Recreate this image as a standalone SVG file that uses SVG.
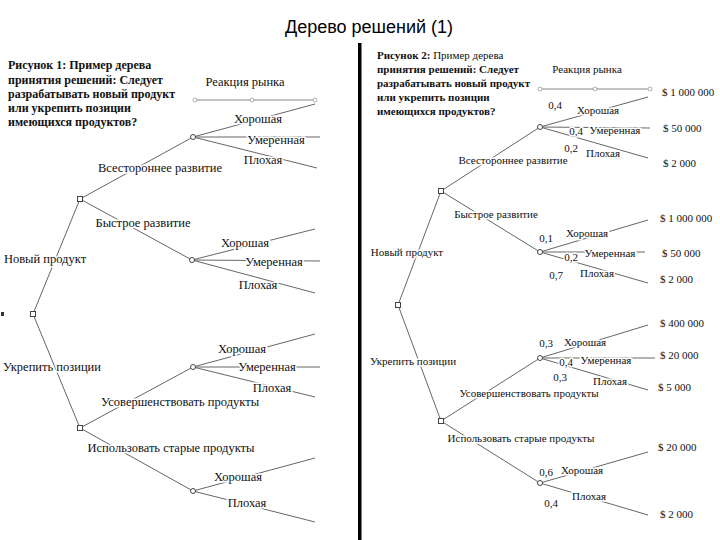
<svg xmlns="http://www.w3.org/2000/svg" width="720" height="540" viewBox="0 0 720 540">
<style>
.bg{fill:#fff}
.title{font-family:"Liberation Sans",Arial,sans-serif;font-size:18px;fill:#000;text-anchor:middle}
.cap{font-family:"Liberation Serif","Times New Roman",serif;font-weight:bold;fill:#111}
.capL{font-size:12px}
.capR{font-size:11px}
.reg{font-weight:normal}
.lbl{font-family:"Liberation Serif","Times New Roman",serif;font-size:12.5px;fill:#111;text-anchor:middle;stroke:#fff;stroke-width:3px;paint-order:stroke;stroke-linejoin:round}
.lblR{font-family:"Liberation Serif","Times New Roman",serif;font-size:11px;fill:#111;text-anchor:middle;stroke:#fff;stroke-width:3px;paint-order:stroke;stroke-linejoin:round}
.val{font-family:"Liberation Serif","Times New Roman",serif;font-size:11px;fill:#111}
.ln{stroke:#666;stroke-width:1;fill:none}
.axis{stroke:#888;stroke-width:1.2;fill:none}
.dot{fill:#fff;stroke:#999;stroke-width:0.8}
.dec{fill:#fff;stroke:#444;stroke-width:1}
.chn{fill:#fff;stroke:#444;stroke-width:1}
</style>
<rect class="bg" x="0" y="0" width="720" height="540"/>
<text class="title" x="369" y="33">Дерево решений (1)</text>
<rect x="358" y="43" width="3.5" height="497" fill="#000"/>
<rect x="1" y="312" width="3" height="4" fill="#333"/>

<g id="connectors">
  <!-- left tree -->
  <line class="ln" x1="33" y1="314" x2="80" y2="199"/>
  <line class="ln" x1="33" y1="314" x2="80" y2="428"/>
  <line class="ln" x1="80" y1="199" x2="193" y2="137"/>
  <line class="ln" x1="80" y1="199" x2="192" y2="260"/>
  <line class="ln" x1="80" y1="428" x2="193" y2="367"/>
  <line class="ln" x1="80" y1="428" x2="193" y2="491"/>
  <line class="ln" x1="193" y1="137" x2="315" y2="104"/>
  <line class="ln" x1="193" y1="137" x2="320" y2="137"/>
  <line class="ln" x1="193" y1="137" x2="317" y2="168"/>
  <line class="ln" x1="192" y1="260" x2="315" y2="229"/>
  <line class="ln" x1="192" y1="260" x2="320" y2="261"/>
  <line class="ln" x1="192" y1="260" x2="315" y2="293"/>
  <line class="ln" x1="193" y1="367" x2="315" y2="334"/>
  <line class="ln" x1="193" y1="367" x2="320" y2="367"/>
  <line class="ln" x1="193" y1="367" x2="315" y2="397"/>
  <line class="ln" x1="193" y1="491" x2="315" y2="458"/>
  <line class="ln" x1="193" y1="491" x2="315" y2="522"/>
  <!-- right tree -->
  <line class="ln" x1="398" y1="305" x2="441" y2="191"/>
  <line class="ln" x1="398" y1="305" x2="441" y2="421"/>
  <line class="ln" x1="441" y1="191" x2="540" y2="127"/>
  <line class="ln" x1="441" y1="191" x2="540" y2="252"/>
  <line class="ln" x1="441" y1="421" x2="540" y2="358"/>
  <line class="ln" x1="441" y1="421" x2="540" y2="483"/>
  <line class="ln" x1="540" y1="127" x2="648" y2="97"/>
  <line class="ln" x1="540" y1="127" x2="650" y2="128"/>
  <line class="ln" x1="540" y1="127" x2="648" y2="158"/>
  <line class="ln" x1="540" y1="252" x2="648" y2="220"/>
  <line class="ln" x1="540" y1="252" x2="645" y2="252"/>
  <line class="ln" x1="540" y1="252" x2="648" y2="283"/>
  <line class="ln" x1="540" y1="358" x2="648" y2="325"/>
  <line class="ln" x1="540" y1="358" x2="655" y2="358"/>
  <line class="ln" x1="540" y1="358" x2="648" y2="390"/>
  <line class="ln" x1="540" y1="483" x2="648" y2="452"/>
  <line class="ln" x1="540" y1="483" x2="648" y2="515"/>
</g>

<g id="axisL">
  <line class="axis" x1="195" y1="100" x2="315" y2="100"/>
  <circle class="dot" cx="195" cy="100" r="2"/>
  <circle class="dot" cx="252" cy="100" r="2"/>
  <circle class="dot" cx="315" cy="100" r="2"/>
  <text class="lbl" x="245" y="86">Реакция рынка</text>
</g>
<g id="axisR">
  <line class="axis" x1="540" y1="89" x2="650" y2="89"/>
  <circle class="dot" cx="540" cy="89" r="2"/>
  <circle class="dot" cx="595" cy="89" r="2"/>
  <circle class="dot" cx="650" cy="89" r="2"/>
  <text class="lblR" x="587" y="73">Реакция рынка</text>
</g>

<g id="captionL" class="cap capL">
  <text x="8" y="69">Рисунок 1: Пример дерева</text>
  <text x="8" y="84">принятия решений: Следует</text>
  <text x="8" y="98">разрабатывать новый продукт</text>
  <text x="8" y="112">или укрепить позиции</text>
  <text x="8" y="126">имеющихся продуктов?</text>
</g>
<g id="captionR" class="cap capR">
  <text x="377" y="59">Рисунок 2: <tspan class="reg">Пример дерева</tspan></text>
  <text x="377" y="73">принятия решений: Следует</text>
  <text x="377" y="87">разрабатывать новый продукт</text>
  <text x="377" y="101">или укрепить позиции</text>
  <text x="377" y="115">имеющихся продуктов?</text>
</g>

<!-- left tree nodes -->
<g id="L-D0"><rect class="dec" x="30.5" y="311.5" width="5" height="5"/></g>
<g id="L-D1"><rect class="dec" x="77.5" y="196.5" width="5" height="5"/></g>
<g id="L-D2"><rect class="dec" x="77.5" y="425.5" width="5" height="5"/></g>
<g id="L-C1"><circle class="chn" cx="193" cy="137" r="2.5"/></g>
<g id="L-C2"><circle class="chn" cx="192" cy="260" r="2.5"/></g>
<g id="L-C3"><circle class="chn" cx="193" cy="367" r="2.5"/></g>
<g id="L-C4"><circle class="chn" cx="193" cy="491" r="2.5"/></g>

<g id="L-labels">
  <text class="lbl" x="45" y="263">Новый продукт</text>
  <text class="lbl" x="52" y="371">Укрепить позиции</text>
  <text class="lbl" x="160" y="172">Всестороннее развитие</text>
  <text class="lbl" x="143" y="227">Быстрое развитие</text>
  <text class="lbl" x="180" y="406">Усовершенствовать продукты</text>
  <text class="lbl" x="171" y="452">Использовать старые продукты</text>
  <text class="lbl" x="258" y="123">Хорошая</text>
  <text class="lbl" x="276" y="144">Умеренная</text>
  <text class="lbl" x="263" y="164">Плохая</text>
  <text class="lbl" x="245" y="247">Хорошая</text>
  <text class="lbl" x="274" y="266">Умеренная</text>
  <text class="lbl" x="258" y="289">Плохая</text>
  <text class="lbl" x="242" y="353">Хорошая</text>
  <text class="lbl" x="267" y="371">Умеренная</text>
  <text class="lbl" x="272" y="392">Плохая</text>
  <text class="lbl" x="238" y="481">Хорошая</text>
  <text class="lbl" x="247" y="507">Плохая</text>
</g>

<!-- right tree nodes -->
<g id="R-D0"><rect class="dec" x="395.5" y="302.5" width="5" height="5"/></g>
<g id="R-D1"><rect class="dec" x="438.5" y="188.5" width="5" height="5"/></g>
<g id="R-D2"><rect class="dec" x="438.5" y="418.5" width="5" height="5"/></g>
<g id="R-C1"><circle class="chn" cx="540" cy="127" r="2.5"/></g>
<g id="R-C2"><circle class="chn" cx="540" cy="252" r="2.5"/></g>
<g id="R-C3"><circle class="chn" cx="540" cy="358" r="2.5"/></g>
<g id="R-C4"><circle class="chn" cx="540" cy="483" r="2.5"/></g>

<g id="R-labels">
  <text class="lblR" x="407" y="256">Новый продукт</text>
  <text class="lblR" x="413" y="365">Укрепить позиции</text>
  <text class="lblR" x="513" y="164">Всестороннее развитие</text>
  <text class="lblR" x="496" y="218">Быстрое развитие</text>
  <text class="lblR" x="529" y="397">Усовершенствовать продукты</text>
  <text class="lblR" x="521" y="442">Использовать старые продукты</text>

  <text class="lblR" x="555" y="109">0,4</text>
  <text class="lblR" x="598" y="114">Хорошая</text>
  <text class="lblR" x="576" y="135">0,4</text>
  <text class="lblR" x="615" y="134">Умеренная</text>
  <text class="lblR" x="571" y="152">0,2</text>
  <text class="lblR" x="603" y="157">Плохая</text>

  <text class="lblR" x="546" y="242">0,1</text>
  <text class="lblR" x="587" y="237">Хорошая</text>
  <text class="lblR" x="571" y="261">0,2</text>
  <text class="lblR" x="610" y="257">Умеренная</text>
  <text class="lblR" x="556" y="279">0,7</text>
  <text class="lblR" x="597" y="277">Плохая</text>

  <text class="lblR" x="546" y="347">0,3</text>
  <text class="lblR" x="585" y="346">Хорошая</text>
  <text class="lblR" x="566" y="366">0,4</text>
  <text class="lblR" x="606" y="364">Умеренная</text>
  <text class="lblR" x="560" y="381">0,3</text>
  <text class="lblR" x="610" y="385">Плохая</text>

  <text class="lblR" x="546" y="476">0,6</text>
  <text class="lblR" x="582" y="474">Хорошая</text>
  <text class="lblR" x="551" y="507">0,4</text>
  <text class="lblR" x="589" y="500">Плохая</text>
</g>

<g id="R-values" class="val">
  <text x="662" y="96">$ 1 000 000</text>
  <text x="663" y="132">$ 50 000</text>
  <text x="663" y="167">$ 2 000</text>
  <text x="660" y="222">$ 1 000 000</text>
  <text x="662" y="257">$ 50 000</text>
  <text x="660" y="283">$ 2 000</text>
  <text x="660" y="327">$ 400 000</text>
  <text x="660" y="359">$ 20 000</text>
  <text x="658" y="391">$ 5 000</text>
  <text x="658" y="451">$ 20 000</text>
  <text x="660" y="518">$ 2 000</text>
</g>
</svg>
